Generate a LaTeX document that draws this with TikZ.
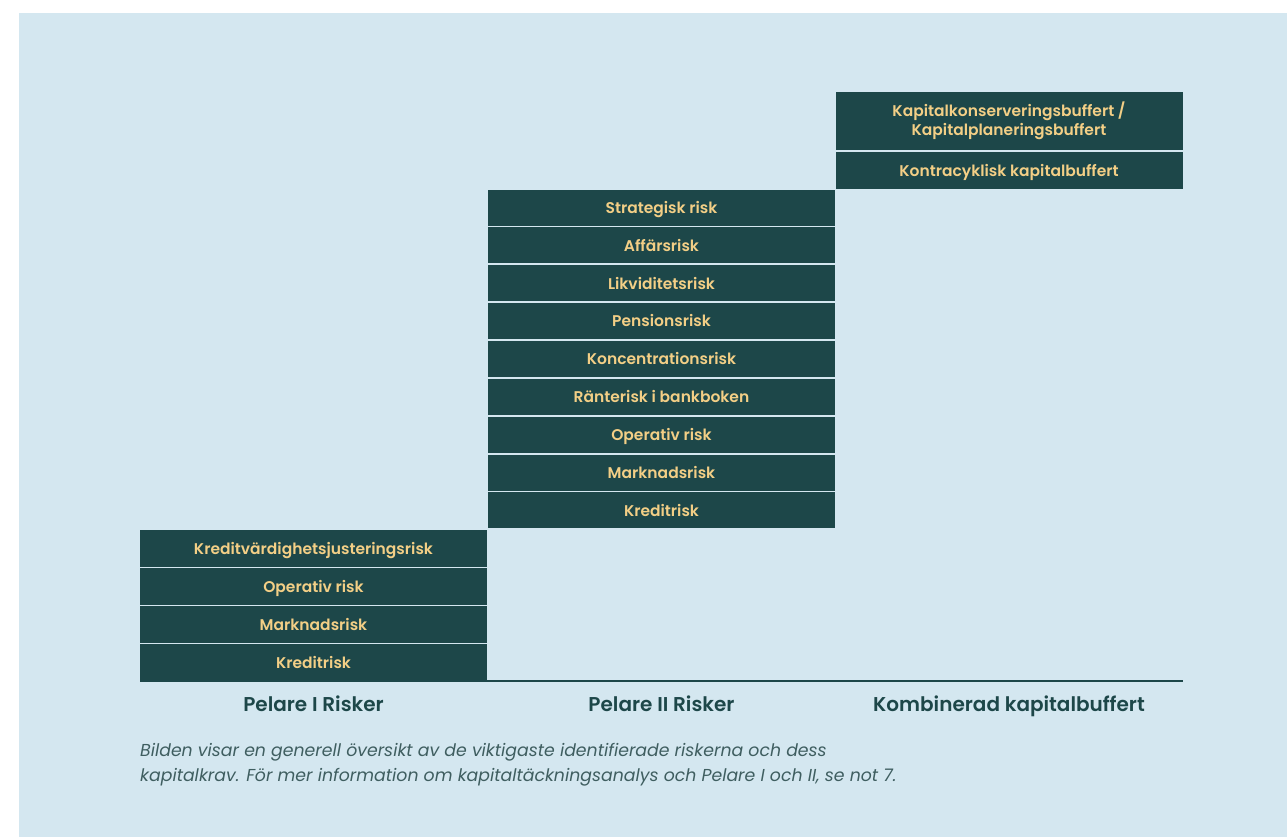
\documentclass[tikz,border=0pt]{standalone}
\usepackage{fontspec}
\setmainfont{Poppins}
\newfontfamily\boxfont{Poppins SemiBold}
\newfontfamily\headfont{Poppins SemiBold}
\usepackage{tikz}

\definecolor{boxgreen}{HTML}{1D4749}
\definecolor{boxtext}{HTML}{F3CF86}
\definecolor{panelbg}{HTML}{D4E7F0}
\definecolor{notegray}{HTML}{3F5E60}

\begin{document}
\begin{tikzpicture}[x=1pt,y=-1pt,
  riskbox/.style={fill=boxgreen, text=boxtext, minimum width=347pt, inner sep=0pt,
    outer sep=0pt, anchor=north west, align=center,
    font=\boxfont\fontsize{15.5}{19}\selectfont},
  oneline/.style={text height=11.5pt, text depth=0pt},
  pillar/.style={text=boxgreen, anchor=base, font=\headfont\fontsize{20}{24}\selectfont}]
  \useasboundingbox (0,0) rectangle (1287,837);
  \fill[white] (0,0) rectangle (1287,837);
  \fill[panelbg] (19,13) rectangle (1287,837);

  % pillar I, bottom up
  \foreach \txt [count=\i from 0] in {Kreditrisk, Marknadsrisk, Operativ risk,
      Kreditvärdighetsjusteringsrisk}
    \node[riskbox, oneline, minimum height=36.5pt] (pI\i) at (140,{644-38*\i}) {\txt};

  % pillar II, bottom up
  \foreach \txt [count=\i from 0] in {Kreditrisk, Marknadsrisk, Operativ risk,
      Ränterisk i bankboken, Koncentrationsrisk, Pensionsrisk, Likviditetsrisk,
      Affärsrisk, Strategisk risk}
    \node[riskbox, oneline, minimum height=36pt] (pII\i) at (488,{492.4-37.85*\i}) {\txt};

  % buffers
  \node[riskbox, oneline, minimum height=37pt] (k0) at (835.5,152) {Kontracyklisk kapitalbuffert};
  \node[riskbox, minimum height=58pt] (k1) at (835.5,92)
    {Kapitalkonserveringsbuffert /\\Kapitalplaneringsbuffert};

  % base line
  \draw[boxgreen, line width=2pt] (pI0.south west) -- (pI0.south west -| k1.east);

  \node[pillar] (hI) at (313.5,711) {Pelare I Risker};
  \node[pillar] (hII) at (661.5,711) {Pelare II Risker};
  \node[pillar] (hK) at (1009,711) {Kombinerad kapitalbuffert};

  % note, anchored on its last line
  \node[anchor=base west, align=left, inner sep=0pt, text=notegray,
    font=\itshape\fontsize{17.3}{25}\selectfont] (note) at (140,781)
    {Bilden visar en generell översikt av de viktigaste identifierade riskerna och dess\\
     kapitalkrav. För mer information om kapitaltäckningsanalys och Pelare I och II, se not 7.};
\end{tikzpicture}
\end{document}
